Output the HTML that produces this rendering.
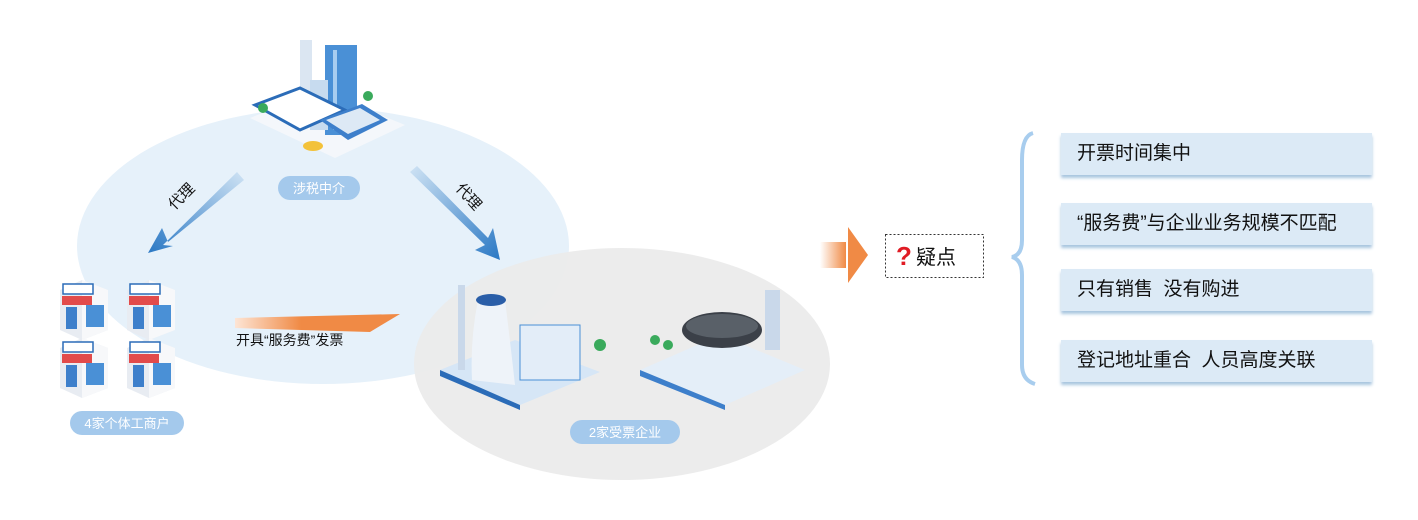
<!DOCTYPE html>
<html><head><meta charset="utf-8"><style>
body{margin:0;width:1418px;height:520px;background:#fff;overflow:hidden;font-family:"Liberation Sans","Noto Sans CJK SC",sans-serif;}
.box{position:absolute;left:1061px;width:311px;height:42px;background:#dceaf6;box-shadow:0 3px 3px #a9c6df;font-size:19px;color:#111;line-height:42px;padding-left:16px;box-sizing:border-box;}
</style></head><body>
<svg width="1418" height="520" style="position:absolute;left:0;top:0" font-family="Liberation Sans, Noto Sans CJK SC, sans-serif">
<defs>
<linearGradient id="ga" x1="1" y1="0" x2="0" y2="1"><stop offset="0" stop-color="#cfe3f4"/><stop offset="1" stop-color="#2a78c4"/></linearGradient>
<linearGradient id="gb" x1="0" y1="0" x2="1" y2="1"><stop offset="0" stop-color="#cfe3f4"/><stop offset="1" stop-color="#2a78c4"/></linearGradient>
<linearGradient id="go" x1="0" y1="0" x2="1" y2="0"><stop offset="0" stop-color="#fde5d5"/><stop offset=".4" stop-color="#f08a45"/><stop offset="1" stop-color="#f08a45"/></linearGradient>
<linearGradient id="gr" x1="0" y1="0" x2="1" y2="0"><stop offset="0" stop-color="#fff"/><stop offset="1" stop-color="#f08a45"/></linearGradient>
</defs>
<ellipse cx="323" cy="246" rx="246" ry="138" fill="#e6f1fa"/>
<ellipse cx="622" cy="364" rx="208" ry="116" fill="#ebebeb" opacity="0.95"/>
<!-- top intermediary illustration -->
<polygon points="250,118 320,90 405,125 335,158" fill="#f4f7fb"/>
<rect x="300" y="40" width="12" height="60" fill="#dbe6f2"/>
<rect x="325" y="45" width="32" height="90" fill="#4a90d6"/>
<rect x="333" y="50" width="4" height="80" fill="#a8cdf0"/>
<rect x="310" y="80" width="18" height="50" fill="#c7dbef"/>
<polygon points="255,105 300,88 345,110 300,130" fill="#ffffff" stroke="#2b6cb8" stroke-width="3"/>
<polygon points="320,120 362,104 388,120 348,140" fill="#3d7fcb"/>
<polygon points="326,120 360,108 380,120 348,134" fill="#dde9f5"/>
<ellipse cx="313" cy="146" rx="10" ry="5" fill="#f3c23a"/>
<circle cx="368" cy="96" r="5" fill="#3aaa5c"/><circle cx="263" cy="108" r="5" fill="#3aaa5c"/>
<rect x="278" y="176" width="82" height="24" rx="12" fill="#a4c9ec"/>
<text x="319" y="193" font-size="13" fill="#fff" text-anchor="middle">涉税中介</text>
<!-- arrows 代理 -->
<polygon points="237,172 244,180 168,242 162,228 148,253 173,246 163,245" fill="url(#ga)"/>
<polygon points="410,172 417,166 488,238 493,228 500,260 475,250 485,245" fill="url(#gb)"/>
<text x="185" y="200" font-size="15" fill="#111" transform="rotate(-45 185 200)" text-anchor="middle">代理</text>
<text x="465" y="200" font-size="15" fill="#111" transform="rotate(48 465 200)" text-anchor="middle">代理</text>
<!-- shops -->
<g id="shop"><polygon points="60,290 82,280 108,290 108,330 82,340 60,330" fill="#e8ecf2"/><polygon points="82,280 108,290 108,330 82,340" fill="#f7f8fa"/><rect x="63" y="284" width="30" height="10" fill="#fff" stroke="#2b6cb8" stroke-width="1.5"/><rect x="62" y="296" width="30" height="9" fill="#e24b4b"/><rect x="66" y="307" width="11" height="22" fill="#3d7fcb"/><rect x="86" y="305" width="18" height="22" fill="#4a90d6"/></g>
<use href="#shop" x="67" y="0"/><use href="#shop" x="0" y="58"/><use href="#shop" x="67" y="58"/>
<rect x="70" y="411" width="114" height="24" rx="12" fill="#a4c9ec"/>
<text x="127" y="428" font-size="13" fill="#fff" text-anchor="middle">4家个体工商户</text>
<!-- orange arrow -->
<polygon points="235,318 400,314 370,332 235,328" fill="url(#go)"/>
<text x="236" y="345" font-size="14" fill="#111">开具“服务费”发票</text>
<!-- factory -->
<polygon points="440,370 515,340 600,372 520,405" fill="#d6e6f6"/>
<polygon points="440,370 520,405 520,410 440,376" fill="#2b6cb8"/>
<rect x="458" y="285" width="7" height="85" fill="#c9d8ea"/>
<path d="M478,300 Q470,340 472,380 L515,385 Q510,340 505,300 Z" fill="#eef3f9"/>
<ellipse cx="491" cy="300" rx="15" ry="6" fill="#2a5ea8"/>
<rect x="520" y="325" width="60" height="55" fill="#e3edf8" stroke="#4a90d6"/>
<circle cx="600" cy="345" r="6" fill="#3aaa5c"/>
<!-- tank -->
<polygon points="640,370 720,335 805,370 725,405" fill="#e4eef8"/>
<polygon points="640,370 725,405 725,410 640,376" fill="#3d7fcb"/>
<ellipse cx="722" cy="330" rx="40" ry="18" fill="#3b4048"/>
<ellipse cx="722" cy="326" rx="36" ry="12" fill="#596068"/>
<rect x="765" y="290" width="15" height="60" fill="#c9d8ea"/>
<circle cx="655" cy="340" r="5" fill="#3aaa5c"/><circle cx="668" cy="345" r="5" fill="#3aaa5c"/>
<rect x="570" y="420" width="110" height="24" rx="12" fill="#a4c9ec"/>
<text x="625" y="437" font-size="13" fill="#fff" text-anchor="middle">2家受票企业</text>
<!-- right arrow -->
<rect x="820" y="242" width="26" height="26" fill="url(#gr)"/>
<polygon points="848,227 868,255 848,283" fill="#f08a45"/>
<rect x="885.5" y="234.5" width="98" height="43" fill="#fff" stroke="#333" stroke-dasharray="2,2"/>
<text x="896" y="265" font-size="26" fill="#e01b24" font-weight="bold">?</text>
<text x="916" y="264" font-size="20" fill="#111">疑点</text>
<!-- brace -->
<path d="M1033,133 Q1022,136 1022,160 L1022,240 Q1022,255 1012,257 Q1022,260 1022,275 L1022,365 Q1022,380 1035,384" fill="none" stroke="#a8cdee" stroke-width="4"/>
</svg>
<div class="box" style="top:133px">开票时间集中</div>
<div class="box" style="top:203px">“服务费”与企业业务规模不匹配</div>
<div class="box" style="top:269px">只有销售&nbsp;&nbsp;没有购进</div>
<div class="box" style="top:340px">登记地址重合&nbsp;&nbsp;人员高度关联</div>
</body></html>
